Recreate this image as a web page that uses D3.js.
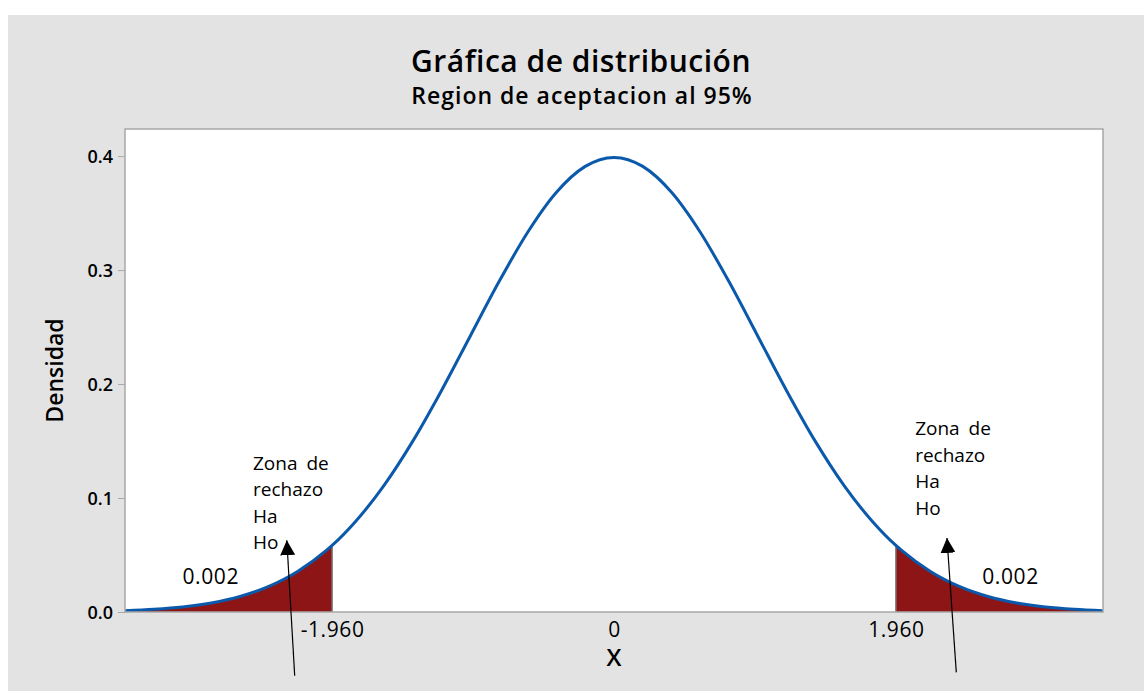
<!DOCTYPE html>
<html>
<head>
<meta charset="utf-8">
<script src="https://cdn.jsdelivr.net/npm/d3@7"></script>
<style>
  body { margin: 0; background: #fff; }
  text { font-family: "Open Sans", "Noto Sans", sans-serif; fill: #000; }
</style>
</head>
<body>
<div id="wrapper"></div>
<script>
// density curve
const xValues = [-3.4, -3.2, -3.0, -2.8, -2.6, -2.4, -2.2, -2.0, -1.96, -1.8, -1.6, -1.4, -1.2, -1.0, -0.8, -0.6, -0.4, -0.2, 0,
                 0.2, 0.4, 0.6, 0.8, 1.0, 1.2, 1.4, 1.6, 1.8, 1.96, 2.0, 2.2, 2.4, 2.6, 2.8, 3.0, 3.2, 3.4]
const densities = [0.0012, 0.0024, 0.0044, 0.0079, 0.0136, 0.0224, 0.0355, 0.0540, 0.0584, 0.0790, 0.1109, 0.1497, 0.1942, 0.2420, 0.2897, 0.3332, 0.3683, 0.3910, 0.3989,
                   0.3910, 0.3683, 0.3332, 0.2897, 0.2420, 0.1942, 0.1497, 0.1109, 0.0790, 0.0584, 0.0540, 0.0355, 0.0224, 0.0136, 0.0079, 0.0044, 0.0024, 0.0012]
const critical = [-1.960, 1.960]
const xTicks = [-1.960, 0, 1.960]
const xTickLabels = ["-1.960", "0", "1.960"]
const yTicks = [0.0, 0.1, 0.2, 0.3, 0.4]
const tailLabels = ["0.002", "0.002"]
const zoneLines = ["Zona de", "rechazo", "Ha", "Ho"]

const dataset = xValues.map((x, i) => ({x, y: densities[i]}))
const xAccessor = d => d.x
const yAccessor = d => d.y

let dimensions = {
    width: 1145,
    height: 691,
    margin: {top: 129, right: 42, bottom: 79, left: 125},
}
dimensions.boundedWidth = dimensions.width - dimensions.margin.left - dimensions.margin.right
dimensions.boundedHeight = dimensions.height - dimensions.margin.top - dimensions.margin.bottom

const wrapper = d3.select("#wrapper")
                  .append("svg")
                  .attr("width", dimensions.width)
                  .attr("height", dimensions.height)

wrapper.append("rect")
       .attr("x", 8).attr("y", 15)
       .attr("width", 1136).attr("height", 676)
       .attr("fill", "#e3e3e3")

const bounds = wrapper.append("g")
                      .attr("transform", `translate(${dimensions.margin.left},${dimensions.margin.top})`)

const xScale = d3.scaleLinear()
                 .domain([-3.4, 3.4])
                 .range([0, dimensions.boundedWidth])

const yScale = d3.scaleLinear()
                 .domain([0, 0.4238])
                 .range([dimensions.boundedHeight, 0])

bounds.append("rect")
      .attr("width", dimensions.boundedWidth)
      .attr("height", dimensions.boundedHeight)
      .attr("fill", "#fff")

// shaded tails
const areaGenerator = d3.area()
                        .x(d => xScale(xAccessor(d)))
                        .y0(dimensions.boundedHeight)
                        .y1(d => yScale(yAccessor(d)))
                        .curve(d3.curveMonotoneX)

const tails = [
    dataset.filter(d => d.x <= critical[0]),
    dataset.filter(d => d.x >= critical[1]),
]
bounds.selectAll(".tail")
      .data(tails)
      .enter()
      .append("path")
      .attr("class", "tail")
      .attr("d", areaGenerator)
      .attr("fill", "#8e1515")

bounds.selectAll(".crit")
      .data(critical)
      .enter()
      .append("line")
      .attr("x1", d => xScale(d)).attr("x2", d => xScale(d))
      .attr("y1", dimensions.boundedHeight)
      .attr("y2", d => yScale(dataset.find(p => p.x === d).y))
      .attr("stroke", "#777")
      .attr("stroke-width", 1.5)

const lineGenerator = d3.line()
                        .x(d => xScale(xAccessor(d)))
                        .y(d => yScale(yAccessor(d)))
                        .curve(d3.curveMonotoneX)

bounds.append("path")
      .attr("d", lineGenerator(dataset))
      .attr("fill", "none")
      .attr("stroke", "#0b59ab")
      .attr("stroke-width", 3)

// frame
bounds.append("rect")
      .attr("width", dimensions.boundedWidth)
      .attr("height", dimensions.boundedHeight)
      .attr("fill", "none")
      .attr("stroke", "#a8a8a8")
      .attr("stroke-width", 1.5)

// axes
const yAxisGenerator = d3.axisLeft(yScale)
                         .tickValues(yTicks)
                         .tickFormat(d3.format(".1f"))
                         .tickSize(7)
                         .tickPadding(5)

const yAxis = bounds.append("g").call(yAxisGenerator)
yAxis.select(".domain").remove()
yAxis.selectAll(".tick line").attr("stroke", "#a8a8a8")
yAxis.selectAll(".tick text")
     .style("font-size", "18px")
     .style("font-weight", 600)
     .attr("dy", "0.35em")

const xAxisGenerator = d3.axisBottom(xScale)
                         .tickValues(xTicks)
                         .tickFormat((d, i) => xTickLabels[i])
                         .tickSize(0)
                         .tickPadding(10)

const xAxis = bounds.append("g")
                    .attr("transform", `translate(0,${dimensions.boundedHeight})`)
                    .call(xAxisGenerator)
xAxis.select(".domain").remove()
xAxis.selectAll(".tick text")
     .style("font-size", "21px")
     .style("letter-spacing", "0.6px")

xAxis.append("text")
     .attr("x", xScale(0))
     .attr("y", 54)
     .attr("text-anchor", "middle")
     .style("font-size", "24px")
     .style("font-weight", 600)
     .text("X")

wrapper.append("text")
       .attr("transform", `translate(63,${dimensions.margin.top + dimensions.boundedHeight / 2}) rotate(-90)`)
       .attr("text-anchor", "middle")
       .style("font-size", "23px")
       .style("font-weight", 600)
       .text("Densidad")

// titles
wrapper.append("text")
       .attr("x", 581).attr("y", 72)
       .attr("text-anchor", "middle")
       .style("font-size", "30px")
       .style("font-weight", 600)
       .style("letter-spacing", "0.5px")
       .text("Gráfica de distribución")

wrapper.append("text")
       .attr("x", 582).attr("y", 104)
       .attr("text-anchor", "middle")
       .style("font-size", "23px")
       .style("font-weight", 600)
       .style("letter-spacing", "1px")
       .text("Region de aceptacion al 95%")

// annotations
const notes = [
    {x: -2.51, y: 0.125, label: -3.0, labelY: 0.025, arrowFrom: [-2.22, -0.056], arrowTo: [-2.275, 0.063]},
    {x: 2.094, y: 0.155, label: 2.56, labelY: 0.025, arrowFrom: [2.38, -0.053], arrowTo: [2.315, 0.065]},
]

const defs = wrapper.append("defs")
defs.append("marker")
    .attr("id", "arrow")
    .attr("viewBox", "0 0 10 10")
    .attr("refX", 10).attr("refY", 5)
    .attr("markerWidth", 15).attr("markerHeight", 15)
    .attr("markerUnits", "userSpaceOnUse")
    .attr("orient", "auto")
    .append("path")
    .attr("d", "M0,0 L10,5 L0,10 Z")
    .attr("fill", "#000")

notes.forEach((n, i) => {
    const block = bounds.append("text")
                        .attr("x", xScale(n.x))
                        .attr("y", yScale(n.y))
                        .style("font-size", "19px")
                        .style("word-spacing", "4px")
    block.selectAll("tspan")
         .data(zoneLines)
         .enter()
         .append("tspan")
         .attr("x", xScale(n.x))
         .attr("dy", (d, j) => j === 0 ? 0 : 26.5)
         .text(d => d)

    bounds.append("text")
          .attr("x", xScale(n.label))
          .attr("y", yScale(n.labelY))
          .style("font-size", "21px")
          .style("letter-spacing", "0.6px")
          .text(tailLabels[i])

    bounds.append("line")
          .attr("x1", xScale(n.arrowFrom[0]))
          .attr("y1", yScale(n.arrowFrom[1]))
          .attr("x2", xScale(n.arrowTo[0]))
          .attr("y2", yScale(n.arrowTo[1]))
          .attr("stroke", "#000")
          .attr("stroke-width", 1.2)
          .attr("marker-end", "url(#arrow)")
})
</script>
</body>
</html>
